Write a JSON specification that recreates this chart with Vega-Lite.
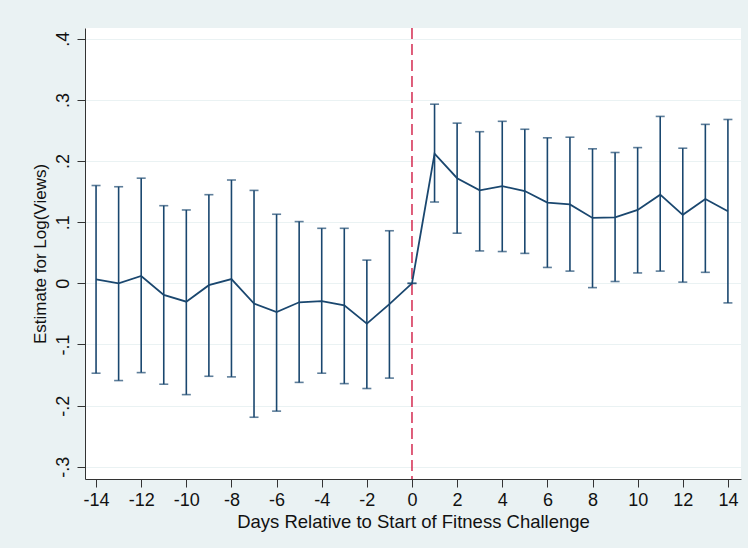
{
  "$schema": "https://vega.github.io/schema/vega-lite/v6.json",
  "width": 656,
  "height": 451,
  "autosize": "none",
  "padding": {"left": 85, "top": 28, "right": 7, "bottom": 69},
  "background": "#eaf2f3",
  "config": {
    "view": {"fill": "white", "stroke": null},
    "font": "Liberation Sans"
  },
  "data": {
    "values": [
      {"day": -14, "est": 0.0065, "lo": -0.147, "hi": 0.160},
      {"day": -13, "est": 0.000, "lo": -0.159, "hi": 0.158},
      {"day": -12, "est": 0.012, "lo": -0.146, "hi": 0.172},
      {"day": -11, "est": -0.019, "lo": -0.165, "hi": 0.127},
      {"day": -10, "est": -0.030, "lo": -0.182, "hi": 0.120},
      {"day": -9, "est": -0.003, "lo": -0.152, "hi": 0.145},
      {"day": -8, "est": 0.007, "lo": -0.153, "hi": 0.169},
      {"day": -7, "est": -0.033, "lo": -0.219, "hi": 0.152},
      {"day": -6, "est": -0.047, "lo": -0.209, "hi": 0.113},
      {"day": -5, "est": -0.031, "lo": -0.162, "hi": 0.101},
      {"day": -4, "est": -0.029, "lo": -0.147, "hi": 0.090},
      {"day": -3, "est": -0.036, "lo": -0.164, "hi": 0.090},
      {"day": -2, "est": -0.066, "lo": -0.172, "hi": 0.038},
      {"day": -1, "est": -0.034, "lo": -0.155, "hi": 0.086},
      {"day": 0, "est": 0.000, "lo": 0.000, "hi": 0.000},
      {"day": 1, "est": 0.212, "lo": 0.133, "hi": 0.293},
      {"day": 2, "est": 0.172, "lo": 0.082, "hi": 0.262},
      {"day": 3, "est": 0.152, "lo": 0.053, "hi": 0.248},
      {"day": 4, "est": 0.159, "lo": 0.052, "hi": 0.265},
      {"day": 5, "est": 0.151, "lo": 0.049, "hi": 0.252},
      {"day": 6, "est": 0.132, "lo": 0.026, "hi": 0.238},
      {"day": 7, "est": 0.129, "lo": 0.020, "hi": 0.239},
      {"day": 8, "est": 0.107, "lo": -0.007, "hi": 0.220},
      {"day": 9, "est": 0.108, "lo": 0.003, "hi": 0.214},
      {"day": 10, "est": 0.120, "lo": 0.017, "hi": 0.222},
      {"day": 11, "est": 0.145, "lo": 0.020, "hi": 0.273},
      {"day": 12, "est": 0.112, "lo": 0.002, "hi": 0.221},
      {"day": 13, "est": 0.138, "lo": 0.018, "hi": 0.260},
      {"day": 14, "est": 0.118, "lo": -0.032, "hi": 0.268}
    ]
  },
  "encoding": {
    "x": {
      "field": "day", "type": "quantitative",
      "scale": {"domain": [-14.49, 14.58], "nice": false, "zero": false},
      "axis": {
        "values": [-14,-12,-10,-8,-6,-4,-2,0,2,4,6,8,10,12,14],
        "labelExpr": "replace(format(datum.value, 'd'), '\u2212', '-')",
        "title": "Days Relative to Start of Fitness Challenge",
        "titleFont": "Liberation Sans", "titleFontSize": 18.5, "titleFontWeight": "normal", "titleColor": "#111",
        "titlePadding": 3,
        "labelFont": "Liberation Sans", "labelFontSize": 18, "labelColor": "#111", "labelPadding": 4,
        "grid": false, "domainColor": "#333", "tickColor": "#333", "tickSize": 8, "labelFlush": false
      }
    }
  },
  "layer": [
    {
      "mark": {"type": "rule", "color": "#d42a50", "strokeDash": [11, 5], "strokeWidth": 1.5},
      "data": {"values": [{"day": 0}]},
      "encoding": {"x": {"field": "day", "type": "quantitative"}}
    },
    {
      "mark": {"type": "rule", "color": "#1a476f", "strokeWidth": 1.6},
      "encoding": {
        "y": {
          "field": "lo", "type": "quantitative",
          "scale": {"domain": [-0.32, 0.4176], "nice": false, "zero": false},
          "axis": {
            "values": [-0.3,-0.2,-0.1,0,0.1,0.2,0.3,0.4],
            "labelExpr": "datum.value == 0 ? '0' : replace(replace(format(datum.value, '.1f'), '0.', '.'), '\u2212', '-')",
            "labelAngle": -90, "labelAlign": "center", "labelBaseline": "bottom",
            "labelFont": "Liberation Sans", "labelFontSize": 18, "labelColor": "#111", "labelPadding": 5,
            "title": "Estimate for Log(Views)",
            "titleFont": "Liberation Sans", "titleFontSize": 17, "titleFontWeight": "normal", "titleColor": "#111",
            "titlePadding": 5,
            "grid": true, "gridColor": "#eaf2f3", "gridWidth": 1.2,
            "domainColor": "#333", "tickColor": "#333", "tickSize": 8
          }
        },
        "y2": {"field": "hi"}
      }
    },
    {
      "mark": {"type": "tick", "color": "#1a476f", "size": 9, "thickness": 1.6, "orient": "horizontal"},
      "encoding": {"y": {"field": "lo", "type": "quantitative"}}
    },
    {
      "mark": {"type": "tick", "color": "#1a476f", "size": 9, "thickness": 1.6, "orient": "horizontal"},
      "encoding": {"y": {"field": "hi", "type": "quantitative"}}
    },
    {
      "mark": {"type": "line", "color": "#1a476f", "strokeWidth": 1.8},
      "encoding": {"y": {"field": "est", "type": "quantitative"}}
    }
  ]
}
